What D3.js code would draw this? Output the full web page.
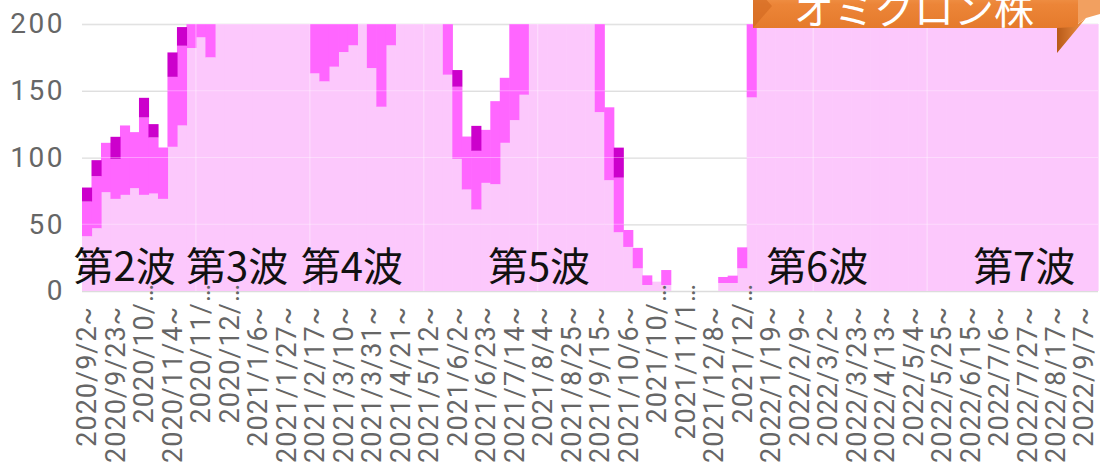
<!DOCTYPE html>
<html lang="ja">
<head>
<meta charset="UTF-8">
<title>週別推移</title>
<script src="https://d3js.org/d3.v7.min.js"></script>
<style>
    body { margin: 0; background: #fff; }
    svg { display: block; }
    .y-axis text { font-family: Roboto, sans-serif; font-size: 28px; fill: #666; letter-spacing: 2.5px; }
    .x-axis text { font-family: Roboto, sans-serif; font-size: 27px; fill: #666; letter-spacing: 1px; }
    .wave { font-family: "Noto Sans CJK JP", sans-serif; font-size: 40px; fill: #111; }
    .banner-text { font-family: "Noto Sans CJK JP", sans-serif; font-size: 40px; fill: #fff; }
</style>
</head>
<body>
<div id="chart"></div>
<script>
    // 週 (2020/9/2 から 107 週)
    const weekCount = 107;

    // 下段（薄いピンク）
    const baseVals = [
        41, 47, 74, 69, 72, 77, 72, 73, 69, 108,
        124, 182, 190, 175, 230, 260, 310, 350, 380, 420,
        400, 360, 300, 250, 163, 157, 168, 179, 184, 205,
        167, 138, 184, 215, 240, 260, 230, 210, 162, 99,
        76, 61, 81, 80, 111, 128, 147, 230, 300, 420,
        520, 460, 340, 240, 134, 83, 44, 33, 17, 4.5,
        7, 4.5, 0, 0, 0, 0, 0, 6, 6, 17,
        145, 400, 900, 1500, 1800, 1700, 1500, 1300, 1200, 1100,
        1000, 950, 900, 850, 800, 750, 700, 650, 600, 560,
        520, 480, 450, 420, 400, 420, 500, 700, 1100, 1600,
        2100, 2400, 2300, 2000, 1700, 1400, 1100
    ];
    // 中段（マゼンタ）
    const midVals = [
        26, 39, 37, 30, 52, 42, 58, 42, 38.5, 52.4,
        59.7, 40, 30, 45, 0, 0, 0, 0, 0, 0,
        0, 0, 0, 0, 60, 60, 50, 40, 35, 0,
        55, 80, 40, 0, 0, 0, 0, 0, 50, 54,
        39.7, 44, 39.7, 62.2, 48.7, 90, 75, 0, 0, 0,
        0, 0, 0, 0, 90, 54.6, 40.9, 12.7, 15.3, 7.2,
        0, 11.2, 0, 0, 0, 0, 0, 4.5, 5.5, 15.7,
        90, 0, 0, 0, 0, 0, 0, 0, 0, 0,
        0, 0, 0, 0, 0, 0, 0, 0, 0, 0,
        0, 0, 0, 0, 0, 0, 0, 0, 0, 0,
        0, 0, 0, 0, 0, 0, 0
    ];
    // 上段（濃いマゼンタ）
    const topVals = [
        10.5, 12, 0, 16.5, 0, 0, 14.7, 10, 0, 18.3,
        14, 0, 0, 0, 0, 0, 0, 0, 0, 0,
        0, 0, 0, 0, 0, 0, 0, 0, 0, 0,
        0, 0, 0, 0, 0, 0, 0, 0, 0, 12.5,
        0, 18.7, 0, 0, 0, 0, 0, 0, 0, 0,
        0, 0, 0, 0, 0, 0, 22.5, 0, 0, 0,
        0, 0, 0, 0, 0, 0, 0, 0, 0, 0,
        0, 0, 0, 0, 0, 0, 0, 0, 0, 0,
        0, 0, 0, 0, 0, 0, 0, 0, 0, 0,
        0, 0, 0, 0, 0, 0, 0, 0, 0, 0,
        0, 0, 0, 0, 0, 0, 0
    ];

    // 3週ごとの目盛りラベル
    const tickLabels = [
        "2020/9/2~", "2020/9/23~", "2020/10/…", "2020/11/4~", "2020/11/…", "2020/12/…",
        "2021/1/6~", "2021/1/27~", "2021/2/17~", "2021/3/10~", "2021/3/31~", "2021/4/21~",
        "2021/5/12~", "2021/6/2~", "2021/6/23~", "2021/7/14~", "2021/8/4~", "2021/8/25~",
        "2021/9/15~", "2021/10/6~", "2021/10/…", "2021/11/1…", "2021/12/8~", "2021/12/…",
        "2022/1/19~", "2022/2/9~", "2022/3/2~", "2022/3/23~", "2022/4/13~", "2022/5/4~",
        "2022/5/25~", "2022/6/15~", "2022/7/6~", "2022/7/27~", "2022/8/17~", "2022/9/7~"
    ];
    const yTicks = [0, 50, 100, 150, 200];

    const waveNames = ["第2波", "第3波", "第4波", "第5波", "第6波", "第7波"];
    const waveAt = [-0.9, 10.95, 23.05, 42.75, 72.05, 93.85];   // 週番号（文字の左端）
    const sepWeeks = [12, 24, 36, 48, 77, 89];
    const bannerText = "オミクロン株";

    const colors = { base: "#fcc8fc", mid: "#ff66ff", top: "#cc00cc" };

    const W = 1100, H = 469;
    const plotLeft = 82, plotRight = 1098, plotTop = 24, plotBottom = 291;

    const data = d3.range(weekCount).map(i => ({
        i: i, base: baseVals[i], mid: midVals[i], top: topVals[i]
    }));

    const x = d3.scaleBand().domain(d3.range(weekCount)).range([plotLeft, plotRight]).padding(0);
    const y = d3.scaleLinear().domain([0, 200]).range([plotBottom, plotTop]);
    const xAt = i => plotLeft + i * x.step();

    const svg = d3.select("#chart").append("svg")
        .attr("width", W).attr("height", H);

    const defs = svg.append("defs");
    defs.append("clipPath").attr("id", "plot-clip")
        .append("rect")
        .attr("x", plotLeft).attr("y", plotTop)
        .attr("width", W - plotLeft).attr("height", plotBottom - plotTop);

    // 目盛り線（下）
    svg.append("g")
        .attr("transform", `translate(${plotLeft},0)`)
        .call(d3.axisLeft(y).tickValues(yTicks).tickSize(-(plotRight - plotLeft)).tickFormat(""))
        .call(g => g.select(".domain").remove())
        .selectAll("line")
        .attr("stroke", "#dcdcdc").attr("stroke-width", 1.5);

    // 積み上げ棒
    const stack = d3.stack().keys(["base", "mid", "top"])(data);
    svg.append("g")
        .attr("clip-path", "url(#plot-clip)")
        .selectAll("g")
        .data(stack)
        .join("g")
        .attr("fill", s => colors[s.key])
        .selectAll("rect")
        .data(s => s)
        .join("rect")
        .attr("x", d => x(d.data.i))
        .attr("width", x.bandwidth() + 0.6)
        .attr("y", d => y(d[1]))
        .attr("height", d => Math.max(0, y(d[0]) - y(d[1])));

    // 棒の上の薄い線
    const overlay = svg.append("g").attr("clip-path", "url(#plot-clip)");
    overlay.selectAll("line.h")
        .data(yTicks.slice(1))
        .join("line")
        .attr("class", "h")
        .attr("x1", plotLeft).attr("x2", plotRight)
        .attr("y1", d => y(d)).attr("y2", d => y(d))
        .attr("stroke", "#fff").attr("stroke-opacity", 0.35);
    overlay.selectAll("line.v")
        .data(sepWeeks)
        .join("line")
        .attr("class", "v")
        .attr("x1", d => xAt(d)).attr("x2", d => xAt(d))
        .attr("y1", plotTop).attr("y2", plotBottom)
        .attr("stroke", "#fff").attr("stroke-opacity", 0.45);

    // y 軸ラベル
    svg.append("g")
        .attr("class", "y-axis")
        .attr("transform", `translate(${plotLeft - 17},0)`)
        .call(d3.axisLeft(y).tickValues(yTicks).tickSize(0).tickPadding(0))
        .call(g => g.select(".domain").remove());

    // x 軸ラベル
    const tickIdx = d3.range(0, weekCount, 3).slice(0, tickLabels.length);
    svg.append("g")
        .attr("class", "x-axis")
        .attr("transform", `translate(0,${plotBottom})`)
        .call(d3.axisBottom(x).tickValues(tickIdx).tickSize(0)
            .tickFormat((d, i) => tickLabels[i]))
        .call(g => g.select(".domain").remove())
        .selectAll("text")
        .attr("transform", "rotate(-90)")
        .attr("text-anchor", "end")
        .attr("y", 0)
        .attr("dy", "0.36em")
        .attr("x", (d, i) => tickLabels[i].endsWith("…") ? 8 : -15);

    // 波ラベル
    svg.append("g").selectAll("text")
        .data(waveNames)
        .join("text")
        .attr("class", "wave")
        .attr("x", (d, i) => xAt(waveAt[i]))
        .attr("y", 281)
        .text(d => d);

    // オミクロン株 バナー
    const grad = defs.append("linearGradient").attr("id", "band-grad")
        .attr("x1", 0).attr("x2", 0).attr("y1", 0).attr("y2", 1);
    grad.append("stop").attr("offset", "0%").attr("stop-color", "#f6a560");
    grad.append("stop").attr("offset", "45%").attr("stop-color", "#ec8538");
    grad.append("stop").attr("offset", "100%").attr("stop-color", "#e57a2c");
    const fold = defs.append("linearGradient").attr("id", "fold-grad")
        .attr("x1", 0).attr("x2", 1).attr("y1", 0).attr("y2", 0);
    fold.append("stop").attr("offset", "0%").attr("stop-color", "#b85a18");
    fold.append("stop").attr("offset", "100%").attr("stop-color", "#f29448");

    const banner = svg.append("g");
    banner.append("path")
        .attr("d", "M1057,-15 L1100,-15 L1100,14 L1086,18 L1072,28 L1057,28 Z")
        .attr("fill", "#f2a060");
    banner.append("path")
        .attr("d", "M753,-15 L1078,-15 L1078,28 L753,28 Z")
        .attr("fill", "url(#band-grad)");
    banner.append("path")
        .attr("d", "M753,-15 L772,6 L753,28 Z")
        .attr("fill", "#d0681f").attr("opacity", 0.6);
    banner.append("path")
        .attr("d", "M1057,28 L1074,27 L1086,18 L1057,53 Z")
        .attr("fill", "url(#fold-grad)");
    banner.append("text")
        .attr("class", "banner-text")
        .attr("x", 914).attr("y", 24)
        .attr("text-anchor", "middle")
        .text(bannerText);
</script>
</body>
</html>
